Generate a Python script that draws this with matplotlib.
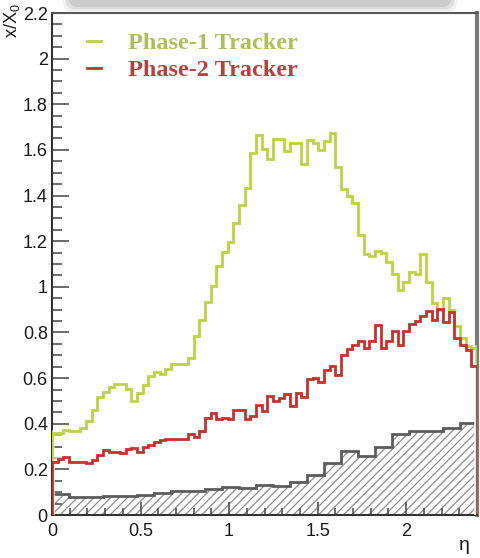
import matplotlib
matplotlib.use("Agg")
import matplotlib.pyplot as plt
import numpy as np
from matplotlib.lines import Line2D
from matplotlib.patches import FancyBboxPatch

# material budget x/X0 versus eta
eta_max = 2.4
n_fine = 75  # bins of 0.032
n_coarse = 25  # bins of 0.096

phase1 = [
    0.361, 0.361, 0.373, 0.366, 0.366, 0.383, 0.410, 0.461, 0.518, 0.540,
    0.560, 0.575, 0.575, 0.553, 0.500, 0.535, 0.571, 0.607, 0.625, 0.619,
    0.641, 0.663, 0.662, 0.662, 0.688, 0.783, 0.856, 0.932, 1.003, 1.090,
    1.152, 1.196, 1.281, 1.357, 1.432, 1.588, 1.666, 1.606, 1.562, 1.650,
    1.650, 1.594, 1.632, 1.632, 1.540, 1.644, 1.629, 1.600, 1.640, 1.676,
    1.523, 1.430, 1.397, 1.366, 1.225, 1.146, 1.133, 1.156, 1.150, 1.107,
    1.054, 0.988, 1.019, 1.063, 1.054, 1.142, 1.019, 0.927, 0.900, 0.949,
    0.897, 0.827, 0.777, 0.739, 0.733,
]

phase2 = [
    0.234, 0.245, 0.256, 0.231, 0.234, 0.234, 0.227, 0.242, 0.263, 0.285,
    0.274, 0.274, 0.270, 0.288, 0.293, 0.274, 0.297, 0.307, 0.319, 0.329,
    0.332, 0.332, 0.332, 0.332, 0.356, 0.341, 0.370, 0.425, 0.449, 0.420,
    0.425, 0.420, 0.461, 0.461, 0.420, 0.435, 0.483, 0.454, 0.523, 0.498,
    0.512, 0.530, 0.476, 0.534, 0.515, 0.596, 0.600, 0.585, 0.637, 0.654,
    0.615, 0.700, 0.728, 0.745, 0.761, 0.733, 0.761, 0.834, 0.733, 0.761,
    0.805, 0.747, 0.805, 0.839, 0.849, 0.871, 0.893, 0.856, 0.903, 0.845,
    0.888, 0.777, 0.747, 0.725, 0.651,
]

other = [
    0.092, 0.078, 0.080, 0.083, 0.083, 0.086, 0.098, 0.105, 0.105, 0.113,
    0.122, 0.117, 0.132, 0.127, 0.146, 0.176, 0.227, 0.281, 0.259, 0.300,
    0.356, 0.369, 0.370, 0.383, 0.403,
]

labels = ["Phase-1 Tracker", "Phase-2 Tracker"]
green = "#bcd341"
red = "#c9302c"
green_txt = "#abc055"
red_txt = "#b4433d"

plt.rcParams["font.family"] = ["Liberation Sans", "DejaVu Sans"]
plt.rcParams["mathtext.fontset"] = "custom"
plt.rcParams["mathtext.rm"] = "Liberation Sans"
plt.rcParams["hatch.linewidth"] = 0.9

edges_fine = np.linspace(0, eta_max, n_fine + 1)
edges_coarse = np.linspace(0, eta_max, n_coarse + 1)

fig = plt.figure(figsize=(4.8, 5.58), dpi=100)
ax = fig.add_axes([52 / 480, 43 / 558, 425 / 480, 502 / 558])

# shadow of the header box cut off at the top
for pad, col in [(5, "#f0f0f0"), (2.5, "#dedede"), (0, "#cbcbcb")]:
    fig.patches.append(
        FancyBboxPatch(
            ((68 - pad) / 480, (551 - pad) / 558), (384 + 2 * pad) / 480, 30 / 558,
            boxstyle="round,pad=0,rounding_size=0.02",
            transform=fig.transFigure, facecolor=col, edgecolor="none", zorder=0,
        )
    )

# hatched "other" material
ax.stairs(other, edges_coarse, fill=True, facecolor="white", edgecolor="#8c8c8c",
          hatch="////", linewidth=0, zorder=1)
ax.stairs(other, edges_coarse, color="#5c5c5c", linewidth=2.0, zorder=2)

# halo + line for the two trackers
for vals, col in [(phase1, green), (phase2, red)]:
    ax.stairs(vals, edges_fine, color="white", linewidth=4.0, alpha=0.6, zorder=3)
    ax.stairs(vals, edges_fine, color=col, linewidth=2.0, zorder=4)

ax.set_xlim(0, eta_max)
ax.set_ylim(0, 2.2)
ax.set_xticks(np.arange(0, 2.01, 0.5))
ax.set_xticks(np.arange(0, 2.41, 0.1), minor=True)
ax.set_yticks(np.arange(0, 2.21, 0.2))
ax.set_yticks(np.arange(0, 2.21, 0.05), minor=True)
ax.xaxis.set_major_formatter(matplotlib.ticker.FormatStrFormatter("%g"))
ax.yaxis.set_major_formatter(matplotlib.ticker.FormatStrFormatter("%g"))

ax.tick_params(which="both", direction="in", top=False, right=False,
               colors="#444444", labelcolor="#1a1a1a", labelsize=13, width=1.1)
ax.tick_params(axis="y", which="major", length=12, pad=3)
ax.tick_params(axis="y", which="minor", length=7)
ax.tick_params(axis="x", which="major", length=9.5, pad=6)
ax.tick_params(axis="x", which="minor", length=5)

for side, col, lw in [("left", "#333333", 1.5), ("bottom", "#333333", 1.5),
                      ("top", "#555555", 1.5), ("right", "#7a7a7a", 3.0)]:
    ax.spines[side].set_color(col)
    ax.spines[side].set_linewidth(lw)

fig.text(12 / 480, 1 - 3 / 558, r"x/X$_{0}$", rotation=90, ha="center", va="top",
         fontsize=13, color="#1a1a1a")
fig.text(464 / 480, 1 - 546 / 558, "η", ha="center", va="center", fontsize=14,
         color="#1a1a1a")

handles = [Line2D([], [], color=green, lw=2.0), Line2D([], [], color=red, lw=2.0)]
leg = ax.legend(handles, labels, loc="upper left", bbox_to_anchor=(0.03, 1.005),
                frameon=False, handlelength=0.6, handletextpad=1.1, labelspacing=0.2,
                prop={"family": "Liberation Serif", "weight": "bold", "size": 17.5})
for txt, col in zip(leg.get_texts(), [green_txt, red_txt]):
    txt.set_color(col)

fig.savefig("out.png", dpi=100)
